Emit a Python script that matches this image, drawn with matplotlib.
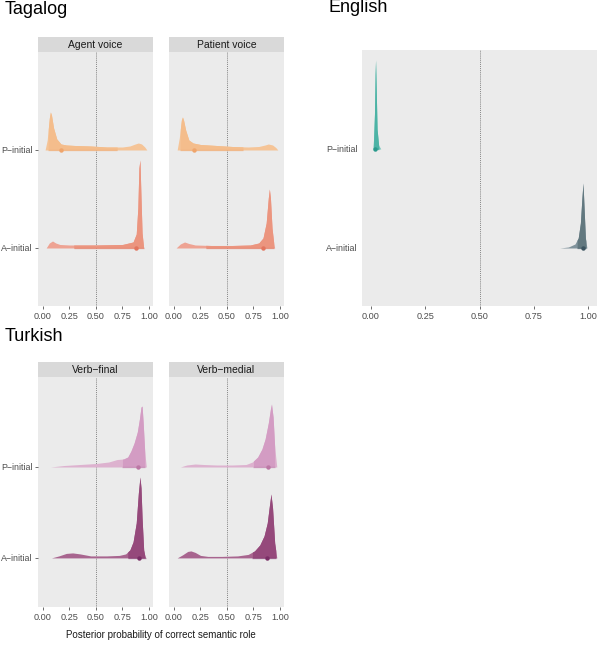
import matplotlib
matplotlib.use('Agg')
import matplotlib.pyplot as plt
import numpy as np

plt.rcParams['font.family'] = ['Liberation Sans', 'DejaVu Sans']

W, H = 600, 645
row_labels = ['A\u2212initial', 'P\u2212initial']
x_ticks = [0.0, 0.25, 0.5, 0.75, 1.0]
x_ticklabels = ['0.00', '0.25', '0.50', '0.75', '1.00']

# Posterior density outlines (x, relative height)
tag_av_p_x = [0.02, 0.04, 0.06, 0.07, 0.08, 0.10, 0.13, 0.17, 0.22, 0.30, 0.45, 0.60, 0.75, 0.82, 0.87, 0.90, 0.93, 0.96, 0.98]
tag_av_p_h = [0, 10, 32, 38, 35, 22, 11, 6, 5, 4.5, 4, 3, 3, 4, 6, 7, 6, 3, 0]
tag_av_a_x = [0.03, 0.06, 0.09, 0.12, 0.16, 0.25, 0.50, 0.75, 0.85, 0.88, 0.895, 0.905, 0.915, 0.925, 0.935, 0.95]
tag_av_a_h = [0, 5, 7, 5, 3.5, 3, 3, 3.5, 6, 14, 40, 80, 88, 50, 15, 0]
tag_pv_p_x = [0.03, 0.05, 0.07, 0.08, 0.09, 0.11, 0.14, 0.18, 0.25, 0.40, 0.55, 0.70, 0.80, 0.86, 0.89, 0.93, 0.96, 0.98]
tag_pv_p_h = [0, 12, 30, 33, 30, 20, 10, 7, 5.5, 4.5, 3.5, 3, 3.5, 5, 6, 5, 2.5, 0]
tag_pv_a_x = [0.02, 0.06, 0.10, 0.14, 0.20, 0.35, 0.55, 0.72, 0.80, 0.84, 0.87, 0.89, 0.90, 0.91, 0.925, 0.94, 0.95]
tag_pv_a_h = [0, 4, 6, 4.5, 3, 2.5, 2.5, 3, 5, 10, 25, 50, 59, 50, 20, 6, 0]

eng_p_x = [0.008, 0.012, 0.016, 0.019, 0.021, 0.024, 0.028, 0.035, 0.045]
eng_p_h = [0, 10, 35, 75, 89, 60, 20, 4, 0]
eng_a_x = [0.87, 0.91, 0.94, 0.955, 0.965, 0.972, 0.977, 0.982, 0.988, 0.995]
eng_a_h = [0, 1, 4, 10, 25, 50, 65, 40, 10, 0]

tur_vf_p_x = [0.07, 0.20, 0.35, 0.50, 0.62, 0.70, 0.76, 0.80, 0.83, 0.86, 0.89, 0.91, 0.925, 0.935, 0.945, 0.96, 0.975]
tur_vf_p_h = [0, 1.5, 2.5, 3.5, 5, 7.5, 8, 10, 16, 24, 35, 48, 60, 61, 45, 15, 0]
tur_vf_a_x = [0.08, 0.15, 0.22, 0.28, 0.35, 0.45, 0.60, 0.72, 0.78, 0.82, 0.85, 0.88, 0.90, 0.915, 0.925, 0.935, 0.95, 0.965]
tur_vf_a_h = [0, 2, 4.5, 5, 4, 2, 2, 2.5, 4, 8, 16, 35, 65, 81, 70, 40, 8, 0]
tur_vm_p_x = [0.06, 0.12, 0.20, 0.28, 0.40, 0.55, 0.68, 0.74, 0.79, 0.83, 0.86, 0.89, 0.91, 0.92, 0.935, 0.95, 0.97]
tur_vm_p_h = [0, 2, 3, 2.5, 2, 2, 2.5, 5, 10, 18, 28, 44, 58, 63, 50, 20, 0]
tur_vm_a_x = [0.03, 0.08, 0.13, 0.16, 0.20, 0.25, 0.32, 0.45, 0.60, 0.70, 0.76, 0.81, 0.85, 0.88, 0.90, 0.915, 0.93, 0.95, 0.97]
tur_vm_a_h = [0, 3, 6.5, 7, 5.5, 2.5, 1.5, 1.5, 2, 3.5, 7, 13, 22, 35, 52, 64, 50, 15, 0]

# median and 66% interval per condition: (median, lower, upper)
tag_av_p_iv = (0.17, 0.05, 0.70)
tag_av_a_iv = (0.88, 0.29, 0.95)
tag_pv_p_iv = (0.19, 0.06, 0.65)
tag_pv_a_iv = (0.84, 0.30, 0.94)
eng_p_iv = (0.02, 0.012, 0.035)
eng_a_iv = (0.975, 0.95, 0.99)
tur_vf_p_iv = (0.90, 0.75, 0.96)
tur_vf_a_iv = (0.91, 0.80, 0.97)
tur_vm_p_iv = (0.89, 0.75, 0.95)
tur_vm_a_iv = (0.88, 0.74, 0.96)

# (outer fill, inner fill, point colour)
pal = {
    'tag_p': ('#F5C497', '#F4BD8C', '#EFA56C'),
    'tag_a': ('#EEA393', '#EB957F', '#E2765F'),
    'eng_p': ('#78C7BC', '#4CB3A5', '#2A9A8C'),
    'eng_a': ('#80939C', '#62787F', '#3C5460'),
    'tur_p': ('#DDB2CF', '#D39CC3', '#BC78A5'),
    'tur_a': ('#A8658F', '#95497B', '#7A2E66'),
}

fig = plt.figure(figsize=(W / 100, H / 100), dpi=100)
fig.patch.set_facecolor('white')


def panel(left, top, w, h, ylim, xlim, strip=None, ylabels=True):
    # top/h describe the plotting region; the strip sits above it
    ax = fig.add_axes([left / W, 1 - (top + h) / H, w / W, h / H])
    ax.set_facecolor('#EBEBEB')
    for s in ax.spines.values():
        s.set_visible(False)
    ax.set_xlim(*xlim)
    ax.set_ylim(*ylim)
    ax.axvline(0.5, color='#666666', lw=0.6, ls=(0, (1, 1.3)), zorder=1)
    ax.set_xticks(x_ticks)
    ax.set_xticklabels(x_ticklabels)
    ax.set_yticks([1, 2])
    ax.set_yticklabels(row_labels if ylabels else [])
    ax.tick_params(axis='both', length=2.5, width=0.5, color='#333333',
                   labelsize=6.6, labelcolor='#4D4D4D', pad=1.5)
    ax.tick_params(axis='y', labelsize=6.4)
    if not ylabels:
        ax.tick_params(axis='y', length=0)
    if strip:
        sax = fig.add_axes([left / W, 1 - top / H, w / W, 15 / H])
        sax.set_facecolor('#D9D9D9')
        for s in sax.spines.values():
            s.set_visible(False)
        sax.set_xticks([])
        sax.set_yticks([])
        sax.text(0.5, 0.48, strip, ha='center', va='center', fontsize=7.5,
                 color='#1A1A1A', transform=sax.transAxes)
    return ax


def ridge(ax, x, h, row, spacing, iv, colors):
    x = np.asarray(x, float)
    y = row + np.asarray(h, float) / spacing
    outer, inner, pt = colors
    ax.fill_between(x, row, y, color=outer, lw=0, zorder=2)
    med, lo, hi = iv
    # inner (interval) part of the slab, a little darker
    xs = np.concatenate([[lo], x[(x > lo) & (x < hi)], [hi]])
    ys = np.interp(xs, x, y)
    ax.fill_between(xs, row, ys, color=inner, lw=0, zorder=3)
    ax.plot([lo, hi], [row, row], color=pt, lw=1.0, alpha=0.45,
            solid_capstyle='butt', zorder=4)
    ax.plot([med], [row], 'o', color=pt, ms=3.2, mec='none', zorder=5)


# Tagalog
ax = panel(38, 52, 115, 254, (0.408, 3.0), (-0.047, 1.038), 'Agent voice')
ridge(ax, tag_av_p_x, tag_av_p_h, 2, 98, tag_av_p_iv, pal['tag_p'])
ridge(ax, tag_av_a_x, tag_av_a_h, 1, 98, tag_av_a_iv, pal['tag_a'])
ax = panel(169, 52, 115, 254, (0.408, 3.0), (-0.047, 1.038), 'Patient voice', ylabels=False)
ridge(ax, tag_pv_p_x, tag_pv_p_h, 2, 98, tag_pv_p_iv, pal['tag_p'])
ridge(ax, tag_pv_a_x, tag_pv_a_h, 1, 98, tag_pv_a_iv, pal['tag_a'])

# English
ax = panel(362, 50, 235, 256, (0.414, 3.0), (-0.0415, 1.0415))
ax.tick_params(axis='y', length=0, pad=3)
ridge(ax, eng_p_x, eng_p_h, 2, 99, eng_p_iv, pal['eng_p'])
ridge(ax, eng_a_x, eng_a_h, 1, 99, eng_a_iv, pal['eng_a'])

# Turkish
ax = panel(38, 377, 115, 230, (0.46, 2.99), (-0.047, 1.038), 'Verb\u2212final')
ridge(ax, tur_vf_p_x, tur_vf_p_h, 2, 91, tur_vf_p_iv, pal['tur_p'])
ridge(ax, tur_vf_a_x, tur_vf_a_h, 1, 91, tur_vf_a_iv, pal['tur_a'])
ax = panel(169, 377, 115, 230, (0.46, 2.99), (-0.047, 1.038), 'Verb\u2212medial', ylabels=False)
ridge(ax, tur_vm_p_x, tur_vm_p_h, 2, 91, tur_vm_p_iv, pal['tur_p'])
ridge(ax, tur_vm_a_x, tur_vm_a_h, 1, 91, tur_vm_a_iv, pal['tur_a'])

fig.text(5 / W, 1 - 9 / H, 'Tagalog', fontsize=13, va='center', ha='left')
fig.text(328 / W, 1 - 8 / H, 'English', fontsize=13, va='center', ha='left')
fig.text(5 / W, 1 - 337 / H, 'Turkish', fontsize=13, va='center', ha='left')
fig.text(160.5 / W, 1 - 635 / H, 'Posterior probability of correct semantic role',
         fontsize=7, ha='center', va='center', color='#1A1A1A')

fig.savefig('out.png', dpi=100, facecolor='white')
